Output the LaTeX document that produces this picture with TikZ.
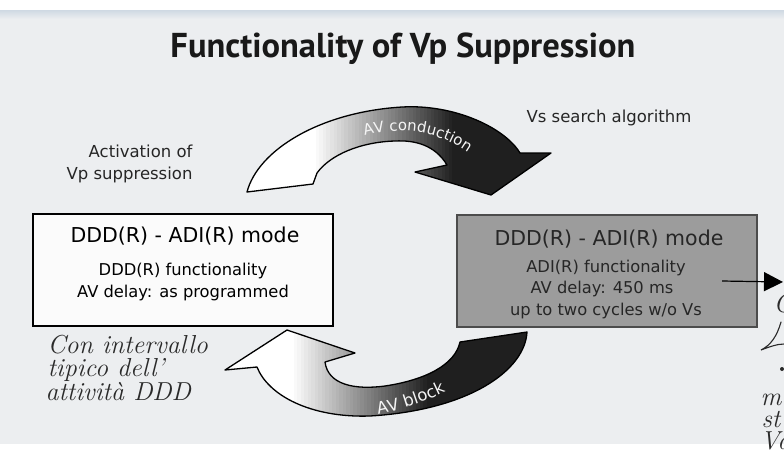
\documentclass[tikz,border=0pt]{standalone}
\usepackage{fontspec}
\newfontfamily\dejavu{DejaVu Sans}
\newfontfamily\headfont{PT Sans}
\usetikzlibrary{arrows.meta,decorations.text}

\definecolor{pagebg}{HTML}{ECEEF0}
\definecolor{rulebl}{HTML}{CFD9E3}
\definecolor{boxgray}{HTML}{9C9C9C}
\definecolor{boxtext}{HTML}{262626}
\definecolor{ink}{HTML}{2A2A2A}

\tikzset{
  titletext/.style={anchor=base,font=\headfont\bfseries\fontsize{34.5}{40}\selectfont,text=black!90},
  labeltext/.style={anchor=base,font=\dejavu\fontsize{16.5}{20}\selectfont,text=black!85},
  modebox/.style={draw=black,line width=1.4pt,fill=white!97!gray},
  modeboxdark/.style={draw=black!70,line width=1.4pt,fill=boxgray},
  headtext/.style={anchor=base,font=\dejavu\fontsize{20.5}{25}\selectfont},
  subtext/.style={anchor=base,font=\dejavu\fontsize{16.3}{20}\selectfont},
  handtext/.style={anchor=base west,font=\itshape\fontsize{26}{30}\selectfont,text=ink},
  bigarrow/.style={draw=black,line width=1.3pt,fill=white,line join=round},
  arclabel/.style 2 args={decorate,decoration={text along path,text align=center,
      text color=white!92!gray,text={|\dejavu\fontsize{#1}{18}\selectfont|#2}}},
}

\begin{document}
\begin{tikzpicture}[x=1pt,y=-1pt]
  \useasboundingbox (0,0) rectangle (784,451);
  \clip (0,0) rectangle (784,451);

  % page background with the pale band at the top
  \fill[pagebg] (0,0) rectangle (784,451);
  \fill[white] (0,0) rectangle (784,10);
  \shade[top color=rulebl,bottom color=pagebg] (0,10) rectangle (784,19);
  \fill[white] (0,444) rectangle (784,451);

  % title and side captions
  \node[titletext] (title) at (403,57) {Functionality of Vp Suppression};
  \node[labeltext,anchor=base west] (search) at (523,122) {Vs search algorithm};
  \node[labeltext,anchor=base east] (act1) at (196,157) {Activation of};
  \node[labeltext,anchor=base east] (act2) at (196,179) {Vp suppression};

  % left mode box
  \draw[modebox] (33,214) rectangle (333,326);
  \node[headtext] (lhead) at (185,242) {DDD(R) - ADI(R) mode};
  \node[subtext] (lsub1) at (183,275) {DDD(R) functionality};
  \node[subtext] (lsub2) at (183,297) {AV delay: as programmed};

  % right mode box
  \draw[modeboxdark] (457,215) rectangle (757,327);
  \node[headtext,text=boxtext] (rhead) at (609,245) {DDD(R) - ADI(R) mode};
  \node[subtext,text=boxtext] (rsub1) at (606,272) {ADI(R) functionality};
  \node[subtext,text=boxtext] (rsub2) at (602,293) {AV delay: 450 ms};
  \node[subtext,text=boxtext] (rsub3) at (606,315) {up to two cycles w/o Vs};

  % upper curved arrow: AV conduction (white to black from left to right)
  \draw[bigarrow,path picture={
      \foreach \i in {0,...,39}{
        \pgfmathsetmacro\tone{88*\i/39}
        \fill[black!\tone] ({312+\i*3.6},90) rectangle ({312+(\i+1)*3.6+0.6},200);}
      \fill[black!88] (456,90) rectangle (560,200);}]
    (247,192) .. controls (258,150) and (320,112) .. (402,107)
    .. controls (455,104) and (505,128) .. (520,153)
    -- (551,153) -- (491,195) -- (415,172) -- (447,165)
    .. controls (435,145) and (415,140) .. (395,141)
    .. controls (360,142) and (330,155) .. (317,173)
    -- (313,184) -- cycle;
  \path[arclabel={15}{AV conduction}]
    (340,146) .. controls (385,122) and (445,124) .. (488,170);

  % lower curved arrow: AV block (black to white from right to left)
  \draw[bigarrow,path picture={
      \foreach \i in {0,...,39}{
        \pgfmathsetmacro\tone{88*\i/39}
        \fill[black!\tone] ({290+\i*3.5},320) rectangle ({290+(\i+1)*3.5+0.6},430);}
      \fill[black!88] (430,320) rectangle (540,430);}]
    (225,370) -- (287,330) -- (355,353) -- (325,362)
    .. controls (328,385) and (355,390) .. (385,386)
    .. controls (425,380) and (455,365) .. (460,342)
    -- (527,332)
    .. controls (525,370) and (470,410) .. (370,416)
    .. controls (310,418) and (268,395) .. (257,367) -- cycle;
  \path[arclabel={16.5}{AV block}]
    (360,418) .. controls (395,412) and (430,402) .. (462,383);

  % small pointer leaving the right box
  \coordinate (pstart) at (722,281);
  \coordinate (pend) at (783,282);
  \draw[line width=1.2pt,-{Triangle[length=19pt,width=19pt]}] (pstart) -- (pend);

  % handwritten notes
  \node[handtext] (note1) at (44,353) {Con intervallo};
  \node[handtext] (note2) at (44,376) {tipico dell'};
  \node[handtext] (note3) at (42,400) {attività DDD};

  \node[handtext] (edge1) at (770,312) {C};
  \draw[ink,line width=1.1pt,line cap=round]
    (781,322) .. controls (777,336) and (771,345) .. (761,350)
    .. controls (769,347) and (777,344) .. (784,344);
  \fill[ink] (782,369) circle (2pt);
  \node[handtext] (edge2) at (757,405) {mo};
  \node[handtext] (edge3) at (758,427) {st};
  \node[handtext] (edge4) at (757,449) {Va};
\end{tikzpicture}
\end{document}
